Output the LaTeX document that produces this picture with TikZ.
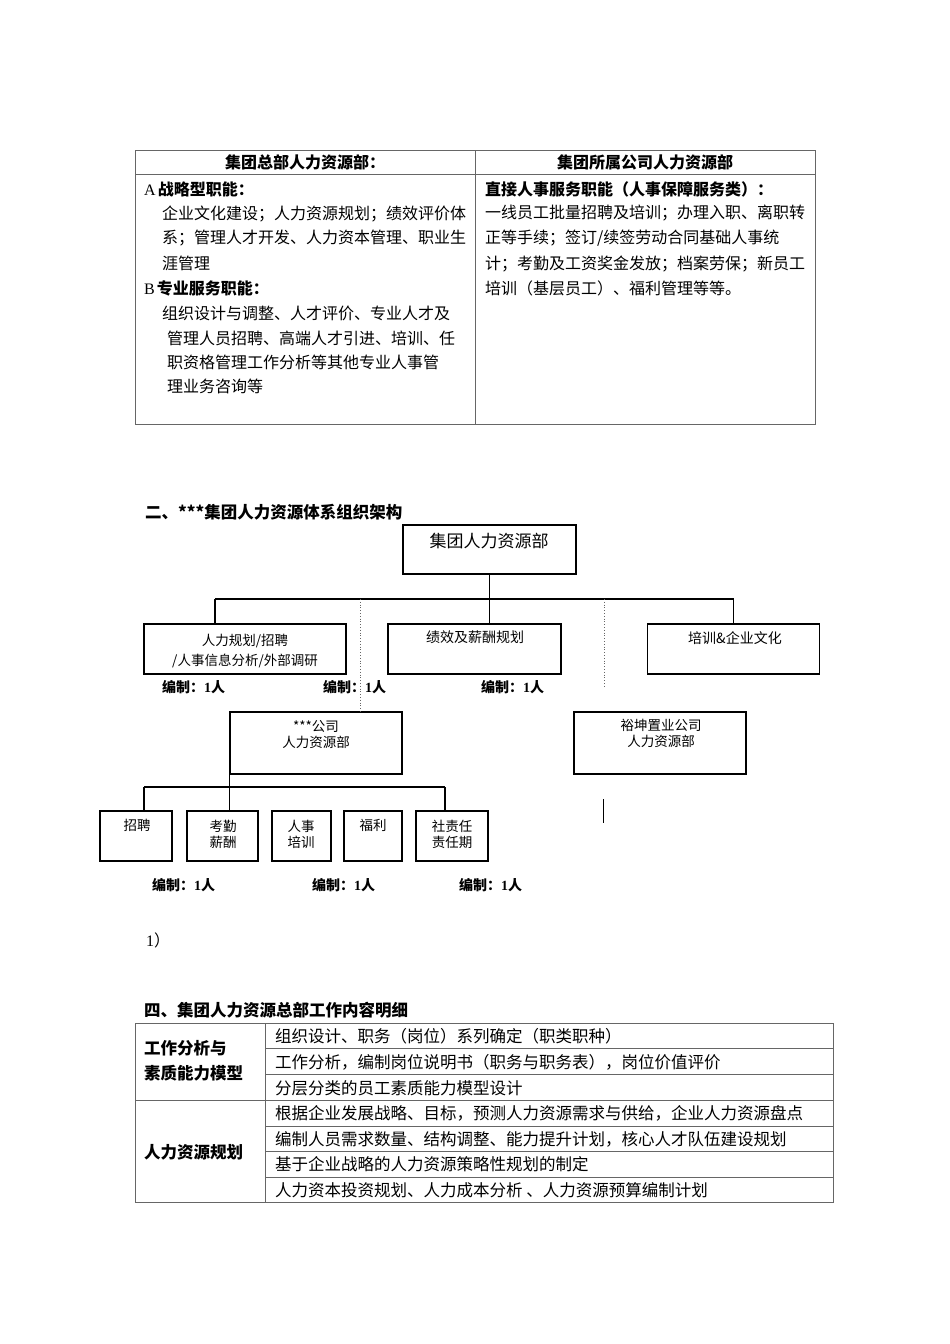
\documentclass[tikz,border=0pt]{standalone}
\usepackage{fontspec}
\setmainfont{Noto Sans CJK SC}
\newfontfamily\latser{Liberation Serif}
\begin{document}
\begin{tikzpicture}[x=1pt,y=-1pt,
  tl/.style={anchor=west,inner sep=0pt,font=\fontsize{16}{16}\selectfont},
  tlb/.style={anchor=west,inner sep=0pt,font=\fontsize{16}{16}\selectfont\bfseries},
  tt/.style={anchor=west,inner sep=0pt,font=\fontsize{16.5}{16.5}\selectfont},
  ttb/.style={anchor=west,inner sep=0pt,font=\fontsize{16.5}{16.5}\selectfont\bfseries},
  hc/.style={anchor=center,inner sep=0pt,font=\fontsize{16}{16}\selectfont\bfseries},
  rule/.style={draw=black!60,line width=1pt},
  box/.style={draw=black,line width=1.1pt,inner sep=0pt},
  conn/.style={draw=black,line width=1.1pt},
  dots/.style={draw=black!60,line width=0.8pt,dotted},
  bz/.style={anchor=west,inner sep=0pt,font=\fontsize{14}{14}\selectfont\bfseries},
  bt/.style={anchor=center,inner sep=0pt,font=\fontsize{13.5}{13.5}\selectfont},
]
\useasboundingbox (0,0) rectangle (950,1344);
\fill[white] (0,0) rectangle (950,1344);

% ---------- Table 1 ----------
\draw[rule] (135,150) rectangle (815,424);
\draw[rule] (135,174) -- (815,174);
\draw[rule] (475,150) -- (475,424);
\node[hc] (h1) at (305,162) {集团总部人力资源部：};
\node[hc] (h2) at (645,162) {集团所属公司人力资源部};
\node[tl] (a0) at (144,189) {{\latser A}\hspace{2pt}\bfseries 战略型职能：};
\node[tl] (a1) at (162,213.5) {企业文化建设；人力资源规划；绩效评价体};
\node[tl] (a2) at (162,238.5) {系；管理人才开发、人力资本管理、职业生};
\node[tl] (a3) at (162,263.5) {涯管理};
\node[tl] (b0) at (144,288) {{\latser B}\hspace{2pt}\bfseries 专业服务职能：};
\node[tl] (b1t) at (162,313) {组织设计与调整、人才评价、专业人才及};
\node[tl] (b2t) at (167,338) {管理人员招聘、高端人才引进、培训、任};
\node[tl] (b3t) at (167,362) {职资格管理工作分析等其他专业人事管};
\node[tl] (b4t) at (167,386) {理业务咨询等};
\node[tlb] (r0) at (485,189) {直接人事服务职能（人事保障服务类）：};
\node[tl] (r1) at (485,213.5) {一线员工批量招聘及培训；办理入职、离职转};
\node[tl] (r2) at (485,238.5) {正等手续；签订/续签劳动合同基础人事统};
\node[tl] (r3) at (485,263.5) {计；考勤及工资奖金发放；档案劳保；新员工};
\node[tl] (r4) at (485,288) {培训（基层员工）、福利管理等等。};

% ---------- Section 2 ----------
\node[ttb] (sec2) at (145,512) {二、***集团人力资源体系组织架构};

\node[box,minimum width=173pt,minimum height=49pt] (top) at (489.5,549.5) {};
\node[bt,font=\fontsize{17}{17}\selectfont] (toptx) at (489,541) {集团人力资源部};

\node[box,minimum width=202pt,minimum height=50pt] (g1) at (245,649) {};
\node[box,minimum width=173pt,minimum height=50pt] (g2) at (474.5,649) {};
\node[box,minimum width=172pt,minimum height=50pt] (g3) at (733.5,649) {};
\node[bt] (g1a) at (245,641) {人力规划/招聘};
\node[bt] (g1b) at (245,661) {/人事信息分析/外部调研};
\node[bt,font=\fontsize{14}{14}\selectfont] (g2a) at (475,637.5) {绩效及薪酬规划};
\node[bt,font=\fontsize{14}{14}\selectfont] (g3a) at (735,638) {培训\&企业文化};

\coordinate (bus) at (489.5,599);
\coordinate (busL) at (215,599);
\coordinate (busR) at (733.5,599);
\draw[conn] (top.south) -- (bus);
\draw[conn] (busL) -- (busR);
\draw[conn] (busL) -- (busL |- g1.north);
\draw[conn] (bus) -- (bus |- g2.north);
\draw[conn] (busR) -- (g3.north);

\node[bz] (n1) at (162,687) {编制：{\latser 1}人};
\node[bz] (n2) at (323,687) {编制：{\latser 1}人};
\node[bz] (n3) at (481,687) {编制：{\latser 1}人};

\node[box,minimum width=172pt,minimum height=62pt] (c4) at (316,743) {};
\node[box,minimum width=172pt,minimum height=62pt] (c5) at (660,743) {};
\node[bt] (c4a) at (316,726) {***公司};
\node[bt] (c4b) at (316,742) {人力资源部};
\node[bt] (c5a) at (661,725.5) {裕坤置业公司};
\node[bt] (c5b) at (661,741.5) {人力资源部};

\coordinate (d1) at (360,599);
\draw[dots] (d1) -- (d1 |- c4.north);
\coordinate (d2t) at (604,599);
\coordinate (d2b) at (604,687);
\draw[dots] (d2t) -- (d2b);

\coordinate (s1) at (603,799);
\coordinate (s2) at (603,823);
\draw[draw=black,line width=1pt] (s1) -- (s2);

\node[box,minimum width=72pt,minimum height=50pt] (k1) at (136,836) {};
\node[box,minimum width=71pt,minimum height=50pt] (k2) at (222.5,836) {};
\node[box,minimum width=59pt,minimum height=50pt] (k3) at (301.5,836) {};
\node[box,minimum width=58pt,minimum height=50pt] (k4) at (373,836) {};
\node[box,minimum width=72pt,minimum height=50pt] (k5) at (452,836) {};
\node[bt] (k1a) at (137,825) {招聘};
\node[bt] (k2a) at (223,826) {考勤};
\node[bt] (k2b) at (223,842) {薪酬};
\node[bt] (k3a) at (301,826) {人事};
\node[bt] (k3b) at (301,842) {培训};
\node[bt] (k4a) at (373,825) {福利};
\node[bt] (k5a) at (452,826) {社责任};
\node[bt] (k5b) at (452,842) {责任期};

\coordinate (e1) at (144,787);
\coordinate (e3) at (445,787);
\draw[conn] (e1) -- (e3);
\draw[conn] (e1) -- (e1 |- k1.north);
\draw[conn] (c4.south west) -- (c4.south west |- k2.north);
\draw[conn] (e3) -- (e3 |- k5.north);

\node[bz] (m1) at (152,885) {编制：{\latser 1}人};
\node[bz] (m2) at (312,885) {编制：{\latser 1}人};
\node[bz] (m3) at (459,885) {编制：{\latser 1}人};

\node[tl] (one) at (146,940) {{\latser 1}）};

% ---------- Section 4 ----------
\node[ttb] (sec4) at (144,1010) {四、集团人力资源总部工作内容明细};
\draw[rule] (135,1023) rectangle (833,1202);
\draw[rule] (265,1023) -- (265,1202);
\draw[rule] (135,1100) -- (833,1100);
\foreach \yy in {1048,1074,1126,1151,1177} { \draw[rule] (265,\yy) -- (833,\yy); }
\node[ttb] (L1a) at (144,1048) {工作分析与};
\node[ttb] (L1b) at (144,1073.5) {素质能力模型};
\node[ttb] (L2) at (144,1152.5) {人力资源规划};
\node[tt] (t1) at (275,1036) {组织设计、职务（岗位）系列确定（职类职种）};
\node[tt] (t2) at (275,1062) {工作分析，编制岗位说明书（职务与职务表），岗位价值评价};
\node[tt] (t3) at (275,1088) {分层分类的员工素质能力模型设计};
\node[tt] (t4) at (275,1113) {根据企业发展战略、目标，预测人力资源需求与供给，企业人力资源盘点};
\node[tt] (t5) at (275,1139) {编制人员需求数量、结构调整、能力提升计划，核心人才队伍建设规划};
\node[tt] (t6) at (275,1164) {基于企业战略的人力资源策略性规划的制定};
\node[tt] (t7) at (275,1190) {人力资本投资规划、人力成本分析 、人力资源预算编制计划};
\end{tikzpicture}
\end{document}
